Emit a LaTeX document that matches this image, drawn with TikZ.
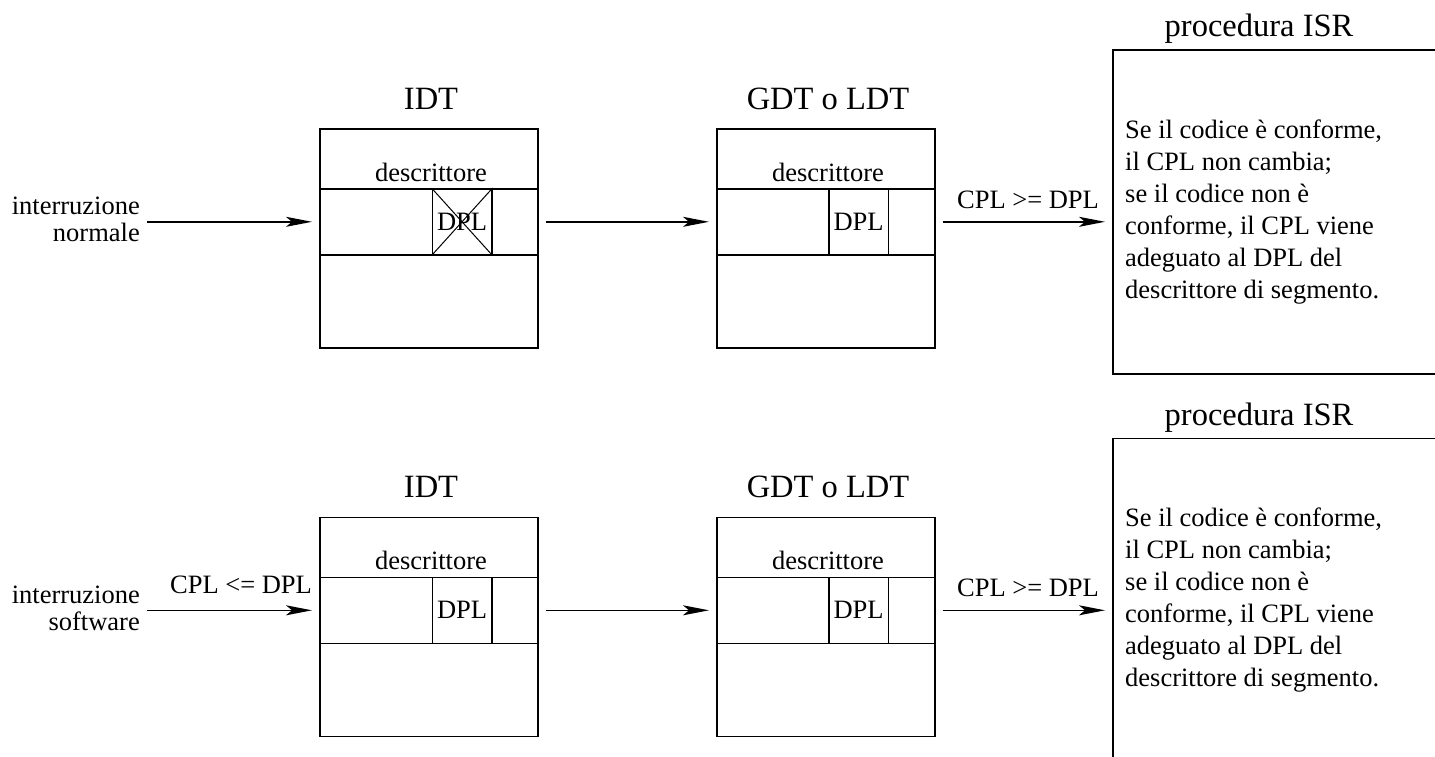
\documentclass[tikz,border=0pt]{standalone}
\usepackage{fontspec}
\setmainfont{Liberation Serif}
\usetikzlibrary{arrows.meta}

\tikzset{
    tab/.style={draw,line width=1.6pt,minimum width=218pt,minimum height=219pt,inner sep=0pt,anchor=north west},
    riga/.style={draw,line width=1.6pt,minimum width=218pt,minimum height=66pt,inner sep=0pt,anchor=north west},
    campo/.style={draw,line width=1.6pt,minimum width=59.5pt,minimum height=66pt,inner sep=0pt,anchor=north west,font=\fontsize{26.5}{27}\selectfont},
    isr/.style={draw,line width=1.6pt,minimum width=400pt,minimum height=324pt,inner sep=0pt,anchor=north west},
    freccia/.style={line width=1.6pt,-{Stealth[length=26pt,width=10pt,inset=6pt]}},
    testo/.style={font=\fontsize{26.5}{26.7}\selectfont,inner sep=0pt},
    titolo/.style={font=\fontsize{32.5}{34}\selectfont,inner sep=0pt,anchor=base},
}

\begin{document}
\begin{tikzpicture}[x=1pt,y=-1pt]
    \useasboundingbox (0,0) rectangle (1435,756);
    \clip (0,0) rectangle (1435,756);

    % interruzione normale
    \node[titolo] (tidt1) at (431,109) {IDT};
    \node[tab] (idt1) at (319,128) {};
    \node[testo,anchor=base] (didt1) at (431,181) {descrittore};
    \node[riga] (ridt1) at (319,188) {};
    \node[campo] (dpl1) at (431.5,188) {DPL};
    \draw[line width=1pt] (dpl1.north west) -- (dpl1.south east)
        (dpl1.north east) -- (dpl1.south west);

    \node[titolo] (tgdt1) at (828,109) {GDT o LDT};
    \node[tab] (gdt1) at (716,128) {};
    \node[testo,anchor=base] (dgdt1) at (828,181) {descrittore};
    \node[riga] (rgdt1) at (716,188) {};
    \node[campo] (dplg1) at (828,188) {DPL};

    \node[titolo] (tisr1) at (1259,36.5) {procedura ISR};
    \node[isr] (isr1) at (1112,49) {};
    \node[testo,anchor=base west,align=left,font=\fontsize{26.5}{32}\selectfont] (cisr1) at (1125,298)
        {Se il codice è conforme,\\il CPL non cambia;\\se il codice non è\\conforme, il CPL viene\\adeguato al DPL del\\descrittore di segmento.};

    \node[testo,anchor=base east,align=right] (int1) at (140,241.5) {interruzione\\normale};
    \node[testo,anchor=base] (cpl1) at (1028,208) {CPL >= DPL};

    \draw[freccia,shorten <=7pt,shorten >=7pt] (int1.east |- ridt1.west) -- (ridt1.west);
    \draw[freccia,shorten <=7pt,shorten >=7pt] (ridt1.east) -- (rgdt1.west);
    \draw[freccia,shorten <=7pt,shorten >=7pt] (rgdt1.east) -- (rgdt1.east -| isr1.west);

    % interruzione software
    \begin{scope}[yshift=-388.5pt]
    \node[titolo] (tidt2) at (431,109) {IDT};
    \node[tab] (idt2) at (319,128) {};
    \node[testo,anchor=base] (didt2) at (431,181) {descrittore};
    \node[riga] (ridt2) at (319,188) {};
    \node[campo] (dpl2) at (431.5,188) {DPL};

    \node[titolo] (tgdt2) at (828,109) {GDT o LDT};
    \node[tab] (gdt2) at (716,128) {};
    \node[testo,anchor=base] (dgdt2) at (828,181) {descrittore};
    \node[riga] (rgdt2) at (716,188) {};
    \node[campo] (dplg2) at (828,188) {DPL};

    \node[titolo] (tisr2) at (1259,36.5) {procedura ISR};
    \node[isr] (isr2) at (1112,49) {};
    \node[testo,anchor=base west,align=left,font=\fontsize{26.5}{32}\selectfont] (cisr2) at (1125,298)
        {Se il codice è conforme,\\il CPL non cambia;\\se il codice non è\\conforme, il CPL viene\\adeguato al DPL del\\descrittore di segmento.};

    \node[testo,anchor=base east,align=right] (int2) at (140,241.5) {interruzione\\software};
    \node[testo,anchor=base] (cpl2) at (241,204.5) {CPL <= DPL};
    \node[testo,anchor=base] (cplg2) at (1028,208) {CPL >= DPL};

    \draw[freccia,shorten <=7pt,shorten >=7pt] (int2.east |- ridt2.west) -- (ridt2.west);
    \draw[freccia,shorten <=7pt,shorten >=7pt] (ridt2.east) -- (rgdt2.west);
    \draw[freccia,shorten <=7pt,shorten >=7pt] (rgdt2.east) -- (rgdt2.east -| isr2.west);
    \end{scope}
\end{tikzpicture}
\end{document}
